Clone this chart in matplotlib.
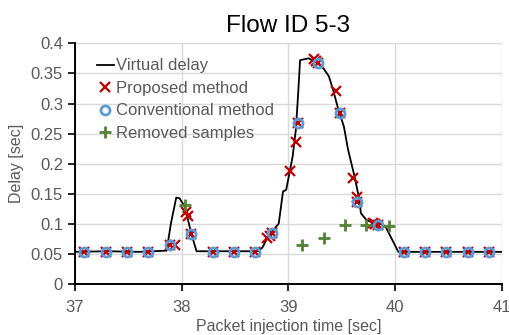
import matplotlib
matplotlib.use("Agg")
from matplotlib import pyplot as plt
import numpy as np

plt.rcParams['font.family'] = ['Liberation Sans', 'DejaVu Sans']

# virtual delay curve
line_t = [37.0, 37.3, 37.6, 37.86, 37.90, 37.95, 37.98, 38.03, 38.09, 38.14,
          38.4, 38.72, 38.76, 38.80, 38.85, 38.91, 38.95, 38.98, 39.04, 39.07,
          39.09, 39.11, 39.14, 39.19, 39.22, 39.28, 39.33, 39.38, 39.42, 39.47,
          39.52, 39.56, 39.62, 39.66, 39.68, 39.73, 39.77, 39.83, 39.91, 40.03,
          40.5, 41.0]
line_d = [0.054, 0.055, 0.054, 0.056, 0.101, 0.144, 0.143, 0.129, 0.085, 0.055,
          0.055, 0.055, 0.062, 0.076, 0.088, 0.101, 0.154, 0.157, 0.212, 0.256,
          0.311, 0.372, 0.373, 0.375, 0.372, 0.367, 0.358, 0.345, 0.322, 0.289,
          0.262, 0.223, 0.179, 0.145, 0.118, 0.107, 0.104, 0.104, 0.096, 0.054,
          0.054, 0.054]

# conventional method samples
conv_t = [37.09, 37.29, 37.49, 37.69, 37.89, 38.09, 38.29, 38.49, 38.69, 38.85,
          39.09, 39.28, 39.48, 39.64, 39.84, 40.08, 40.28, 40.48, 40.68, 40.88]
conv_d = [0.054, 0.054, 0.054, 0.054, 0.066, 0.083, 0.054, 0.054, 0.054, 0.085,
          0.268, 0.367, 0.285, 0.137, 0.098, 0.053, 0.053, 0.053, 0.053, 0.053]

# proposed method samples (in addition to the conventional ones)
prop_t = conv_t + [37.94, 38.04, 38.06, 38.80, 38.83, 39.02, 39.07, 39.24,
                   39.26, 39.45, 39.61, 39.64, 39.79, 39.81]
prop_d = conv_d + [0.065, 0.120, 0.114, 0.077, 0.080, 0.188, 0.237, 0.373,
                   0.371, 0.321, 0.177, 0.145, 0.102, 0.100]

# removed samples
rem_t = [38.03, 39.13, 39.33, 39.53, 39.73, 39.94]
rem_d = [0.132, 0.065, 0.077, 0.098, 0.098, 0.097]

fig = plt.figure(figsize=(5.09, 3.35), dpi=100)
ax = fig.add_axes([0.147, 0.151, 0.839, 0.72])

ax.plot(line_t, line_d, color='black', lw=1.3, label='Virtual delay', zorder=3)
ax.plot(prop_t, prop_d, ls='none', marker='x', ms=7.5, mew=1.6, color='#c00000',
        label='Proposed method', zorder=4)
ax.plot(conv_t, conv_d, ls='none', marker='o', ms=6.5, mew=2, mfc='none',
        color='#5b9bd5', label='Conventional method', zorder=5)
ax.plot(rem_t, rem_d, ls='none', marker='+', ms=9, mew=2, color='#548235',
        label='Removed samples', zorder=6)

ax.set_xlim(37, 41)
ax.set_ylim(0, 0.4)
ax.set_xticks([37, 38, 39, 40, 41])
ax.set_yticks(np.arange(0, 0.41, 0.05))
ax.set_yticklabels(['0', '0.05', '0.1', '0.15', '0.2', '0.25', '0.3', '0.35', '0.4'])
ax.grid(True, color='#d9d9d9', lw=1)
ax.set_axisbelow(True)
for s in ['top', 'right']:
    ax.spines[s].set_visible(False)
for s in ['left', 'bottom']:
    ax.spines[s].set_linewidth(1.4)
ax.tick_params(labelsize=12, colors='#595959', length=5, width=1.2)
ax.tick_params(color='black')
ax.tick_params(axis='x', pad=6)

ax.set_title('Flow ID 5-3', fontsize=17.5, pad=8)
ax.set_xlabel('Packet injection time [sec]', fontsize=11.5, color='#595959', labelpad=3)
ax.set_ylabel('Delay [sec]', fontsize=11.5, color='#595959', labelpad=5)

leg = ax.legend(loc='upper left', frameon=False, fontsize=12, handlelength=1.0,
                handletextpad=0.15, borderaxespad=0.3, labelspacing=0.45,
                bbox_to_anchor=(0.025, 0.985))
for t in leg.get_texts():
    t.set_color('#595959')

fig.savefig('out.png', dpi=100)
